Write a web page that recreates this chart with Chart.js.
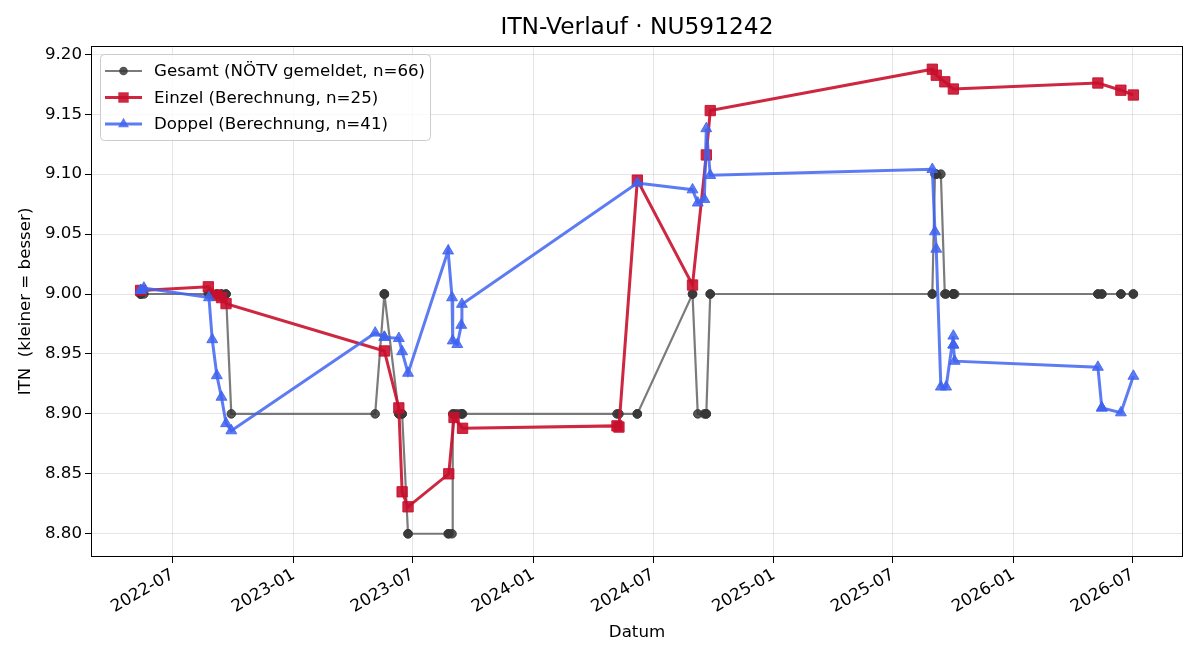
<!DOCTYPE html>
<html><head><meta charset="utf-8">
<script src="https://cdn.jsdelivr.net/npm/chart.js@4.4.1/dist/chart.umd.min.js"></script>
<style>html,body{margin:0;padding:0;background:#fff}#wrap{width:1200px;height:660px}</style>
</head><body><div id="wrap"><canvas id="c" width="1200" height="660"></canvas></div>
<script>
const chartTitle = 'ITN-Verlauf · NU591242';
const xAxisTitle = 'Datum';
const yAxisTitle = 'ITN  (kleiner = besser)';
const seriesNames = ['Gesamt (NÖTV gemeldet, n=66)', 'Einzel (Berechnung, n=25)', 'Doppel (Berechnung, n=41)'];
const xTickLabels = ['2022-07','2023-01','2023-07','2024-01','2024-07','2025-01','2025-07','2026-01','2026-07'];
const yTickValues = [8.80,8.85,8.90,8.95,9.00,9.05,9.10,9.15,9.20];

const gesamtDates = ['2022-05-13','2022-05-13','2022-05-13','2022-05-18','2022-08-24','2022-08-25','2022-08-30','2022-09-06','2022-09-06','2022-09-13','2022-09-13','2022-09-20','2022-09-20','2022-09-28',
'2023-05-05','2023-05-19','2023-05-19','2023-05-19','2023-06-10','2023-06-10','2023-06-15','2023-06-15','2023-06-24','2023-06-24','2023-08-24','2023-08-25','2023-08-30','2023-08-31','2023-09-02','2023-09-07','2023-09-13','2023-09-14','2023-09-15',
'2024-05-07','2024-05-10','2024-06-07','2024-06-07','2024-08-30','2024-08-30','2024-09-07','2024-09-17','2024-09-20','2024-09-20','2024-09-26','2024-09-26',
'2025-08-30','2025-08-30','2025-09-03','2025-09-05','2025-09-05','2025-09-12','2025-09-18','2025-09-20','2025-10-01','2025-10-01','2025-10-01','2025-10-01','2025-10-03',
'2026-05-09','2026-05-09','2026-05-15','2026-05-15','2026-06-13','2026-06-13','2026-07-02','2026-07-02'];
const gesamtValues = [9.0,9.0,9.0,9.0,9.0,9.0,9.0,9.0,9.0,9.0,9.0,9.0,9.0,8.9,
8.9,9.0,9.0,9.0,8.9,8.9,8.9,8.9,8.8,8.8,8.8,8.8,8.8,8.9,8.9,8.9,8.9,8.9,8.9,
8.9,8.9,8.9,8.9,9.0,9.0,8.9,8.9,8.9,8.9,9.0,9.0,
9.0,9.0,9.1,9.1,9.1,9.1,9.0,9.0,9.0,9.0,9.0,9.0,9.0,
9.0,9.0,9.0,9.0,9.0,9.0,9.0,9.0];

const einzelDates = ['2022-05-13','2022-08-24','2022-09-06','2022-09-13','2022-09-20','2023-05-19','2023-06-10','2023-06-15','2023-06-24','2023-08-25','2023-09-02','2023-09-15','2024-05-07','2024-05-10','2024-06-07','2024-08-30','2024-09-20','2024-09-26','2025-08-30','2025-09-05','2025-09-18','2025-10-01','2026-05-09','2026-06-13','2026-07-02'];
const einzelValues = [9.003,9.006,8.999,8.997,8.992,8.9525,8.905,8.835,8.8225,8.85,8.897,8.888,8.890,8.889,9.095,9.0075,9.116,9.153,9.1875,9.1825,9.177,9.171,9.176,9.170,9.166];

const doppelDates = ['2022-05-13','2022-05-13','2022-05-18','2022-08-25','2022-08-30','2022-09-06','2022-09-13','2022-09-20','2022-09-28',
'2023-05-05','2023-05-19','2023-05-19','2023-06-10','2023-06-15','2023-06-24','2023-08-24','2023-08-30','2023-08-31','2023-09-07','2023-09-13','2023-09-14',
'2024-06-07','2024-08-30','2024-09-07','2024-09-17','2024-09-20','2024-09-26',
'2025-08-30','2025-09-03','2025-09-05','2025-09-12','2025-09-20','2025-10-01','2025-10-01','2025-10-01','2025-10-03',
'2026-05-09','2026-05-15','2026-05-15','2026-06-13','2026-07-02'];
const doppelValues = [9.003,9.003,9.005,8.997,8.962,8.932,8.914,8.892,8.886,
8.9675,8.964,8.964,8.963,8.952,8.934,9.036,8.997,8.961,8.958,8.974,8.9915,
9.0925,9.087,9.076,9.079,9.138,9.099,
9.104,9.052,9.0375,8.9225,8.9225,8.965,8.9575,8.9575,8.944,
8.939,8.905,8.905,8.901,8.9315];

const FONT = "'DejaVu Sans', 'Liberation Sans', sans-serif";
const GRAY_LINE = 'rgba(90,90,90,0.8)', GRAY_PT = 'rgba(55,55,55,0.85)';
const RED = 'rgba(200,16,46,0.9)';
const BLUE = 'rgba(65,100,240,0.85)';

const toMs = s => { const p = s.split('-').map(Number); return Date.UTC(p[0], p[1]-1, p[2] || 1); };
const pts = (ds, vs) => ds.map((d, i) => ({x: toMs(d), y: vs[i]}));

const allX = [...gesamtDates, ...einzelDates, ...doppelDates].map(toMs);
const allY = [...gesamtValues, ...einzelValues, ...doppelValues];
const xMin0 = Math.min(...allX), xMax0 = Math.max(...allX);
const yMin0 = Math.min(...allY), yMax0 = Math.max(...allY);
const xPad = (xMax0 - xMin0) * 0.05, yPad = (yMax0 - yMin0) * 0.05;

const legendEntries = [
  {label: seriesNames[0], color: GRAY_LINE, pt: GRAY_PT, lw: 2.2, style: 'circle', r: 4.3},
  {label: seriesNames[1], color: RED, pt: RED, lw: 3, style: 'rect', r: 5.2},
  {label: seriesNames[2], color: BLUE, pt: BLUE, lw: 3, style: 'triangle', r: 6.3}
];

function marker(ctx, style, x, y, r, color) {
  ctx.fillStyle = color;
  ctx.beginPath();
  if (style === 'circle') ctx.arc(x, y, r, 0, Math.PI * 2);
  else if (style === 'rect') ctx.rect(x - r, y - r, 2 * r, 2 * r);
  else { ctx.moveTo(x, y - r); ctx.lineTo(x + r * 0.866, y + r * 0.5); ctx.lineTo(x - r * 0.866, y + r * 0.5); ctx.closePath(); }
  ctx.fill();
}

const framePlugin = {
  id: 'frame',
  afterDatasetsDraw(chart) {
    const {ctx, chartArea: a} = chart;
    ctx.save();
    ctx.strokeStyle = '#000'; ctx.lineWidth = 1;
    ctx.strokeRect(Math.round(a.left) + 0.5, Math.round(a.top) + 0.5, Math.round(a.right - a.left) - 1, Math.round(a.bottom - a.top) - 1);
    // title, centred over the plot area
    ctx.fillStyle = '#000';
    ctx.font = '23.3px ' + FONT;
    ctx.textAlign = 'center'; ctx.textBaseline = 'middle';
    ctx.fillText(chartTitle, (a.left + a.right) / 2, 28);
    // legend
    const x0 = 100.5, y0 = 54.5, w = 330, h = 86, rr = 4;
    ctx.beginPath();
    ctx.moveTo(x0 + rr, y0); ctx.lineTo(x0 + w - rr, y0); ctx.quadraticCurveTo(x0 + w, y0, x0 + w, y0 + rr);
    ctx.lineTo(x0 + w, y0 + h - rr); ctx.quadraticCurveTo(x0 + w, y0 + h, x0 + w - rr, y0 + h);
    ctx.lineTo(x0 + rr, y0 + h); ctx.quadraticCurveTo(x0, y0 + h, x0, y0 + h - rr);
    ctx.lineTo(x0, y0 + rr); ctx.quadraticCurveTo(x0, y0, x0 + rr, y0); ctx.closePath();
    ctx.fillStyle = 'rgba(255,255,255,0.8)'; ctx.fill();
    ctx.strokeStyle = '#cccccc'; ctx.lineWidth = 1; ctx.stroke();
    legendEntries.forEach((e, i) => {
      const y = 71 + i * 26.5;
      ctx.strokeStyle = e.color; ctx.lineWidth = e.lw;
      ctx.beginPath(); ctx.moveTo(105, y); ctx.lineTo(142, y); ctx.stroke();
      marker(ctx, e.style, 123.5, y, e.r, e.pt);
      ctx.fillStyle = '#000';
      ctx.font = '16.67px ' + FONT;
      ctx.textBaseline = 'middle'; ctx.textAlign = 'left';
      ctx.fillText(e.label, 154, y + 1);
    });
    ctx.restore();
  }
};

const tickFont = {family: FONT, size: 16.67};

new Chart(document.getElementById('c'), {
  type: 'line',
  data: {
    datasets: [
      {label: seriesNames[0], data: pts(gesamtDates, gesamtValues), borderColor: GRAY_LINE, borderWidth: 2.2,
       pointStyle: 'circle', pointRadius: 4.3, pointBackgroundColor: GRAY_PT, pointBorderColor: GRAY_PT, pointBorderWidth: 1, tension: 0, order: 3},
      {label: seriesNames[1], data: pts(einzelDates, einzelValues), borderColor: RED, borderWidth: 3,
       pointStyle: 'rect', pointRadius: 7.3, pointBackgroundColor: RED, pointBorderColor: RED, pointBorderWidth: 1, tension: 0, order: 2},
      {label: seriesNames[2], data: pts(doppelDates, doppelValues), borderColor: BLUE, borderWidth: 3,
       pointStyle: 'triangle', pointRadius: 6.3, pointBackgroundColor: BLUE, pointBorderColor: BLUE, pointBorderWidth: 1, tension: 0, order: 1}
    ]
  },
  options: {
    responsive: false, animation: false, events: [],
    layout: {padding: {left: 0, right: 17, top: 46, bottom: 0}},
    plugins: {
      legend: {display: false}, tooltip: {enabled: false}, title: {display: false}
    },
    scales: {
      x: {
        type: 'linear', min: xMin0 - xPad, max: xMax0 + xPad,
        afterBuildTicks: s => { s.ticks = xTickLabels.map(l => ({value: toMs(l + '-01')})); },
        afterFit: s => { s.height = 103; },
        ticks: {
          color: '#000', font: tickFont, minRotation: 30, maxRotation: 30, padding: 2, autoSkip: false,
          callback: v => { const d = new Date(v); return d.getUTCFullYear() + '-' + String(d.getUTCMonth() + 1).padStart(2, '0'); }
        },
        grid: {color: 'rgba(0,0,0,0.1)', tickColor: '#000', tickLength: 6, lineWidth: 1},
        border: {display: false},
        title: {display: true, text: xAxisTitle, color: '#000', font: {family: FONT, size: 16.67}, padding: {top: 4, bottom: 17}}
      },
      y: {
        type: 'linear', min: yMin0 - yPad, max: yMax0 + yPad,
        afterBuildTicks: s => { s.ticks = yTickValues.map(v => ({value: v})); },
        afterFit: s => { s.width = 91; },
        ticks: {color: '#000', font: tickFont, padding: 3, callback: v => Number(v).toFixed(2)},
        grid: {color: 'rgba(0,0,0,0.1)', tickColor: '#000', tickLength: 6, lineWidth: 1},
        border: {display: false},
        title: {display: true, text: yAxisTitle, color: '#000', font: {family: FONT, size: 16.67}, padding: {top: 16, bottom: 0}}
      }
    }
  },
  plugins: [framePlugin]
});
</script></body></html>
